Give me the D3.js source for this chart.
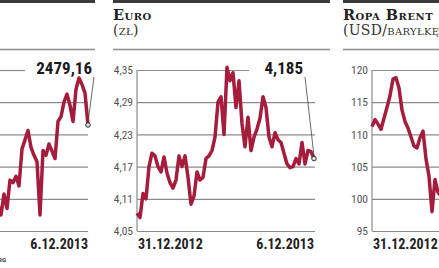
<!DOCTYPE html>
<html>
<head>
<meta charset="utf-8">
<script src="https://cdn.jsdelivr.net/npm/d3@7"></script>
<style>
  body { margin: 0; background: #fff; }
  svg { display: block; }
  .tick text { font-family: 'Liberation Sans Narrow', 'Roboto Condensed', 'DejaVu Sans Condensed', Roboto, sans-serif; font-size: 11.5px; fill: #555; }
</style>
</head>
<body>
<svg id="chart" width="439" height="268"></svg>
<script>
// --- data -------------------------------------------------------------
const titles = ['Wig20', 'Euro', 'Ropa Brent'];
const units = ['(pkt)', '(zł)', '(USD/baryłkę)'];
const dateLabels = ['31.12.2012', '6.12.2013'];
const lastLabels = ['2479,16', '4,185', ''];

const wigTicks = [2150, 2250, 2350, 2450, 2550, 2650];
const euroTicks = [4.05, 4.11, 4.17, 4.23, 4.29, 4.35];
const brentTicks = [95, 100, 105, 110, 115, 120];

// WIG20, 31.12.2012 - 6.12.2013 (first half is off the picture)
const wigValues = [
  2583, 2600, 2620, 2590, 2560, 2530, 2500, 2470, 2440, 2480,
  2430, 2400, 2370, 2340, 2320, 2300, 2330, 2280, 2310, 2350,
  2380, 2420, 2400, 2440, 2380, 2330, 2250, 2200, 2170, 2230,
  2200, 2265, 2220, 2308, 2300, 2320, 2290, 2405, 2433, 2462,
  2410, 2385, 2365, 2200, 2400, 2385, 2420, 2398, 2375, 2490,
  2505, 2550, 2575, 2540, 2490, 2590, 2625, 2605, 2578, 2479.16
];

// EUR/PLN
const euroValues = [
  4.083, 4.075, 4.12, 4.11, 4.17, 4.195, 4.19, 4.17, 4.16, 4.188,
  4.158, 4.14, 4.13, 4.145, 4.19, 4.17, 4.19, 4.15, 4.10, 4.115,
  4.16, 4.145, 4.15, 4.185, 4.19, 4.20, 4.225, 4.29, 4.30, 4.23,
  4.355, 4.33, 4.345, 4.28, 4.33, 4.25, 4.207, 4.262, 4.20, 4.225,
  4.24, 4.26, 4.30, 4.28, 4.225, 4.207, 4.233, 4.22, 4.215, 4.195,
  4.175, 4.168, 4.17, 4.185, 4.175, 4.215, 4.175, 4.20, 4.198, 4.185
];

// Brent (second half is off the picture)
const brentValues = [
  111.2, 112.3, 111.6, 110.8, 112.5, 114.2, 116.0, 118.6, 118.8, 117.2,
  113.8, 112.0, 111.0, 109.6, 108.2, 107.9, 109.5, 110.5, 106.2, 103.5,
  98.0, 103.0, 101.0, 100.5, 102.5, 103.5, 104.0, 102.5, 103.5, 104.5,
  102.8, 103.5, 105.5, 108.0, 107.5, 108.5, 109.5, 108.0, 110.5, 114.0,
  116.5, 115.0, 112.0, 111.0, 109.0, 108.5, 110.0, 109.5, 110.5, 107.0,
  106.0, 105.5, 108.0, 107.5, 110.5, 111.0, 112.0, 110.5, 111.2, 111.1
];

// --- layout -----------------------------------------------------------
const TOP = 70, BOTTOM = 231;
const LINE_COLOR = '#a51c3c';
const SANS = "'Liberation Sans Narrow', 'Roboto Condensed', Roboto, sans-serif";
const SERIF = "'DejaVu Serif', serif";

const locale = d3.formatLocale({ decimal: ',', thousands: ' ', grouping: [3], currency: ['', ''] });

// the left panel starts outside the picture, so its header and tick labels are not drawn
const panels = [
  { title: titles[0], unit: units[0], values: wigValues, ticks: wigTicks, fmt: locale.format('d'), hidden: true,
    left: -117, right: 95, x0: -89, x1: 88, gridEnd: 88, topGridEnd: 25, label: lastLabels[0], labelX: 92 },
  { title: titles[1], unit: units[1], values: euroValues, ticks: euroTicks, fmt: locale.format('.2f'),
    left: 113, right: 330, x0: 137, x1: 314, gridEnd: 315, topGridEnd: 249, label: lastLabels[1], labelX: 303 },
  { title: titles[2], unit: units[2], values: brentValues, ticks: brentTicks, fmt: locale.format('d'),
    left: 343, right: 560, x0: 372, x1: 549, gridEnd: 549, topGridEnd: 549, label: lastLabels[2], labelX: 540 }
];

const svg = d3.select('#chart');

const drawPanel = (p) => {
  const g = svg.append('g');

  const x = d3.scaleLinear().domain([0, p.values.length - 1]).range([p.x0, p.x1]);
  const y = d3.scaleLinear().domain(d3.extent(p.ticks)).range([BOTTOM, TOP]);

  // header rules
  g.append('line')
    .attr('x1', Math.max(p.left, 0)).attr('x2', p.right).attr('y1', 1.5).attr('y2', 1.5)
    .attr('stroke', '#3b3b3b').attr('stroke-width', 3);
  g.append('line')
    .attr('x1', Math.max(p.left, 0)).attr('x2', p.right).attr('y1', 49.5).attr('y2', 49.5)
    .attr('stroke', '#8c8c8c').attr('stroke-width', 1.5);

  // title + unit
  if (!p.hidden) {
    g.append('text')
      .attr('x', p.left).attr('y', 20)
      .attr('font-family', SERIF).attr('font-weight', 'bold')
      .attr('font-size', 14.5).attr('letter-spacing', 0.5)
      .style('font-variant', 'small-caps')
      .attr('fill', '#222')
      .text(p.title);
    g.append('text')
      .attr('x', p.left).attr('y', 35)
      .attr('font-family', SERIF)
      .attr('font-size', 14).attr('letter-spacing', 0.3)
      .style('font-variant', 'small-caps')
      .attr('fill', '#333')
      .text(p.unit);
  }

  // y axis with gridlines
  const yAxis = d3.axisLeft(y)
    .tickValues(p.ticks)
    .tickFormat(p.hidden ? () => '' : p.fmt)
    .tickSize(-(p.gridEnd - p.x0))
    .tickPadding(4);

  const ax = g.append('g')
    .attr('transform', `translate(${p.x0},0)`)
    .call(yAxis);
  ax.select('.domain').remove();
  ax.selectAll('.tick line')
    .attr('stroke', '#8c8c8c').attr('stroke-width', 1.2)
    .attr('x1', p.hidden ? -p.x0 : 0)
    .attr('x2', d => d === d3.max(p.ticks) ? p.topGridEnd - p.x0 : p.gridEnd - p.x0);

  if (!p.hidden) {
    g.append('line')
      .attr('x1', p.x0).attr('x2', p.x0).attr('y1', TOP).attr('y2', BOTTOM)
      .attr('stroke', '#8c8c8c').attr('stroke-width', 1.2);

    g.append('text')
      .attr('x', p.x0 + 1).attr('y', 249)
      .attr('font-family', SANS)
      .attr('font-size', 14).attr('font-weight', 'bold').attr('fill', '#222')
      .text(dateLabels[0]);
  }
  g.append('text')
    .attr('x', p.x1).attr('y', 249).attr('text-anchor', 'end')
    .attr('font-family', SANS)
    .attr('font-size', 14).attr('font-weight', 'bold').attr('fill', '#222')
    .text(dateLabels[1]);

  // series
  const line = d3.line()
    .x((d, i) => x(i))
    .y(d => y(d));

  g.append('path')
    .datum(p.values)
    .attr('d', line)
    .attr('fill', 'none')
    .attr('stroke', LINE_COLOR)
    .attr('stroke-width', 3.5)
    .attr('stroke-linejoin', 'round');

  // last value callout
  const n = p.values.length - 1;
  const lx = x(n), ly = y(p.values[n]);
  if (p.label) {
    g.append('line')
      .attr('x1', p.labelX + 2).attr('y1', 77)
      .attr('x2', lx).attr('y2', ly - 2.5)
      .attr('stroke', '#444').attr('stroke-width', 0.8);
    g.append('text')
      .attr('x', p.labelX).attr('y', 74).attr('text-anchor', 'end')
      .attr('font-family', SANS)
      .attr('font-size', 17).attr('font-weight', 'bold').attr('fill', '#1a1a1a')
      .text(p.label);
  }
  g.append('circle')
    .attr('cx', lx).attr('cy', ly).attr('r', 2.3)
    .attr('fill', '#ddd').attr('stroke', '#333').attr('stroke-width', 1);
};

panels.forEach(drawPanel);

// source note (only its tail is inside the picture)
svg.append('text')
  .attr('x', 6).attr('y', 262).attr('text-anchor', 'end')
  .attr('font-family', 'Roboto, sans-serif').attr('font-size', 6).attr('font-weight', 'bold')
  .attr('fill', '#333')
  .text('ŹRÓDŁO: BLOOMBERG');
</script>
</body>
</html>
